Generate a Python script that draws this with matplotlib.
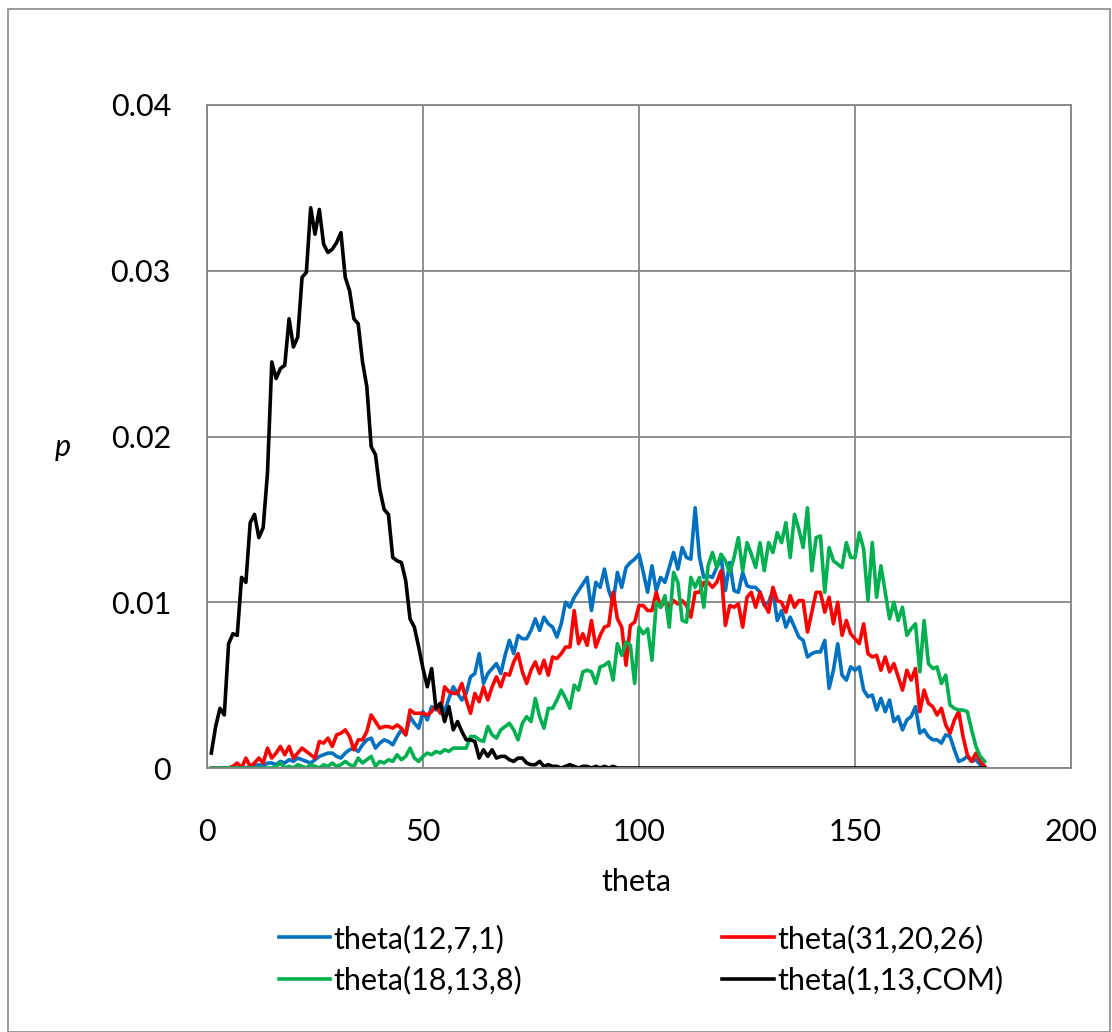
import numpy as np
import matplotlib
matplotlib.use("Agg")
import matplotlib.pyplot as plt
from matplotlib.patches import Rectangle

plt.rcParams['font.family'] = ['Lato', 'DejaVu Sans']

theta = np.arange(1, 181)

# values in units of 1e-4
p_12_7_1 = [0]*9 + [1, 1, 2, 1, 3, 3, 2, 4, 3, 5, 4, 6, 5, 4, 3, 5, 7, 8, 9, 9, 7,
    6, 9, 11, 12, 10, 14, 17, 18, 12, 15, 17, 16, 14, 19, 23, 20, 31, 27, 24, 34,
    29, 37, 35, 39, 34, 42, 49, 45, 41, 45, 55, 57, 69, 51, 57, 60, 63, 57, 68, 77,
    69, 80, 78, 78, 83, 90, 83, 91, 87, 85, 79, 87, 100, 97, 103, 107, 111, 115, 95, 112,
    109, 120, 107, 100, 118, 109, 121, 124, 126, 129, 118, 106, 122, 107, 115, 112, 121, 130, 120, 133,
    127, 126, 157, 127, 115, 116, 115, 121, 127, 107, 124, 107, 106, 118, 110, 109, 109, 106, 98, 100,
    107, 89, 95, 85, 91, 85, 79, 77, 67, 69, 70, 70, 77, 48, 59, 75, 56, 53, 61, 59,
    61, 47, 43, 44, 35, 42, 34, 41, 28, 31, 23, 29, 31, 37, 21, 23, 19, 17, 17, 15,
    20, 19, 11, 4, 5, 7, 4, 5, 2, 0]

p_31_20_26 = [0]*5 + [1, 3, 0, 6, 1, 3, 6, 3, 12, 6, 9, 13, 8, 13, 6,
    9, 12, 10, 8, 6, 16, 15, 18, 13, 20, 21, 23, 19, 11, 17, 17, 22, 32, 28, 24,
    25, 25, 24, 26, 24, 20, 35, 33, 33, 33, 32, 34, 38, 33, 49, 46, 45, 45, 51, 41,
    33, 45, 40, 49, 41, 49, 55, 49, 57, 56, 64, 69, 58, 51, 59, 64, 57, 65, 56, 67,
    66, 69, 73, 73, 95, 75, 81, 74, 89, 73, 80, 85, 86, 106, 90, 85, 62, 86, 88, 98,
    98, 95, 95, 106, 97, 101, 97, 101, 99, 101, 98, 91, 106, 106, 112, 112, 109, 112, 119, 86,
    98, 97, 99, 85, 103, 106, 97, 106, 99, 94, 109, 101, 100, 94, 104, 97, 101, 101, 82, 94,
    106, 106, 94, 103, 87, 100, 80, 89, 81, 78, 75, 87, 69, 67, 68, 59, 67, 58, 63, 55,
    47, 59, 53, 60, 34, 47, 39, 37, 32, 36, 26, 21, 29, 34, 19, 8, 4, 9, 4, 1]

p_18_13_8 = [0]*15 + [1, 3, 0, 1, 0,
    2, 1, 0, 2, 1, 0, 2, 1, 3, 1, 2, 4, 2, 1, 6, 3, 5, 7, 1, 4,
    3, 5, 4, 8, 5, 7, 12, 6, 4, 7, 9, 8, 10, 9, 11, 10, 12, 12, 12, 12,
    19, 19, 17, 16, 25, 20, 18, 23, 25, 27, 23, 17, 27, 31, 28, 42, 31, 24, 36, 36,
    41, 47, 42, 36, 50, 47, 58, 59, 58, 51, 61, 62, 64, 53, 75, 68, 76, 74, 51, 85,
    81, 84, 65, 100, 97, 104, 85, 118, 112, 89, 88, 115, 109, 115, 97, 122, 130, 121, 129, 125,
    118, 127, 139, 119, 136, 129, 121, 136, 119, 136, 130, 142, 136, 148, 127, 153, 144, 133, 157, 119,
    139, 140, 106, 133, 125, 123, 121, 136, 127, 127, 142, 132, 101, 136, 103, 122, 106, 90, 100, 89,
    97, 80, 84, 87, 58, 89, 63, 60, 61, 51, 56, 38, 36, 35, 35, 34, 23, 13, 7, 4]

p_1_13_COM = [9, 25, 36, 32, 75, 81, 80, 115, 112, 148, 153, 139, 145, 178, 245, 235, 241, 243, 271, 254,
    260, 296, 299, 338, 322, 337, 316, 311, 313, 317, 323, 296, 288, 271, 268, 245, 230, 194, 189, 168,
    156, 153, 127, 125, 124, 113, 90, 85, 73, 60, 49, 60, 36, 39, 28, 37, 23, 28, 22, 17,
    17, 16, 6, 11, 7, 11, 6, 7, 7, 5, 4, 6, 6, 3, 2, 2, 4, 1, 2, 1,
    1, 0, 1, 2, 1, 0, 1, 1, 0, 1, 0, 1, 0, 1, 0] + [0]*85

series = [
    ("theta(12,7,1)", p_12_7_1, "#0070C0"),
    ("theta(31,20,26)", p_31_20_26, "#FF0000"),
    ("theta(18,13,8)", p_18_13_8, "#00B050"),
    ("theta(1,13,COM)", p_1_13_COM, "#000000"),
]

W, H = 1112, 1032
FS = 22
fig = plt.figure(figsize=(W/100, H/100), dpi=100)
fig.patches.append(Rectangle((8/W, 0), (W-10)/W, (H-8)/H - 0.0005, transform=fig.transFigure,
                             fill=False, edgecolor="#8a8a8a", linewidth=1.2))

ax = fig.add_axes([207/W, 1-768/H, (1071-207)/W, (768-105)/H])
handles = {}
for name, vals, col in series:
    ln, = ax.plot(theta, np.array(vals)*1e-4, color=col, lw=2.6, label=name,
                  solid_joinstyle='round')
    handles[name] = ln

ax.set_xlim(0, 200)
ax.set_ylim(0, 0.04)
ax.set_xticks([0, 50, 100, 150, 200])
ax.set_yticks([0, 0.01, 0.02, 0.03, 0.04])
ax.set_yticklabels(["0", "0.01", "0.02", "0.03", "0.04"])
ax.grid(True, color="#868686", lw=1.3)
ax.set_axisbelow(True)
for s in ax.spines.values():
    s.set_color("#868686")
    s.set_linewidth(1.3)
ax.tick_params(length=0, labelsize=FS, colors="black")
ax.tick_params(axis='x', pad=36)
ax.tick_params(axis='y', pad=26)

fig.text(636/W, 1-882/H, "theta", fontsize=FS, ha='center', va='center')
fig.text(63/W, 1-447/H, "p", fontsize=FS, style='italic', ha='center', va='center')

order = ["theta(12,7,1)", "theta(18,13,8)", "theta(31,20,26)", "theta(1,13,COM)"]
fig.legend([handles[k] for k in order], order, ncol=2, loc="upper left",
           bbox_to_anchor=(251/W, 1-897/H), frameon=False, fontsize=FS,
           handlelength=1.7, handletextpad=0.1, columnspacing=6.55, labelspacing=0.42)

fig.savefig("out.png", dpi=100)
